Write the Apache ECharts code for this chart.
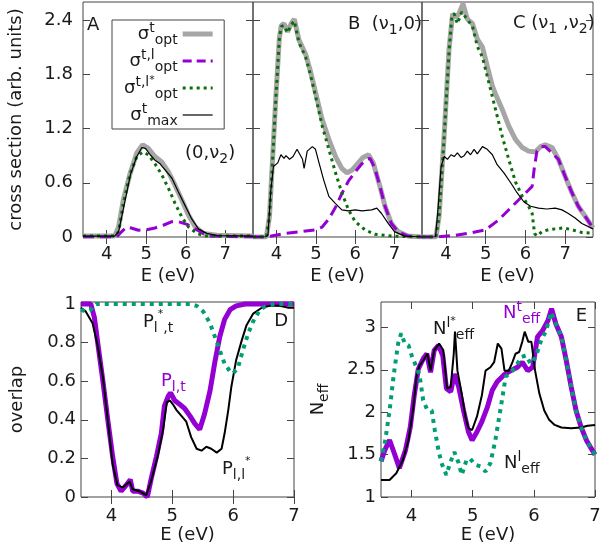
<!DOCTYPE html>
<html>
<head>
<meta charset="utf-8">
<script src="https://cdn.jsdelivr.net/npm/echarts@6.0.0/dist/echarts.min.js"></script>
<style>html,body{margin:0;padding:0;background:#fff}#chart{width:604px;height:549px}</style>
</head>
<body>
<div id="chart"></div>
<script>
// ---- data: [E (eV), value] ----
// panel A (0,v2)
const aOpt = [[3.4,0.01],[4.2,0.01],[4.3,0.11],[4.42,0.41],[4.59,0.7],[4.76,0.93],[4.91,1.02],[5.05,0.98],[5.22,0.89],[5.39,0.83],[5.56,0.72],[5.73,0.57],[5.9,0.41],[6.07,0.24],[6.24,0.11],[6.45,0.04],[6.78,0.02],[7.7,0.01]]
const aOptL = [[3.4,0],[4.25,0],[4.38,0.06],[4.5,0.11],[4.62,0.1],[4.8,0.075],[5.01,0.08],[5.22,0.1],[5.43,0.13],[5.65,0.17],[5.81,0.17],[6.03,0.14],[6.24,0.09],[6.45,0.04],[6.62,0.01],[7.7,0]]
const aOptLs = [[3.4,0.01],[4.22,0.01],[4.3,0.06],[4.42,0.37],[4.59,0.7],[4.76,0.89],[4.91,0.94],[5.05,0.91],[5.22,0.81],[5.39,0.69],[5.56,0.54],[5.73,0.37],[5.9,0.22],[6.07,0.11],[6.28,0.04],[6.5,0.01],[7.7,0.01]]
const aMax = [[3.4,0.01],[4.2,0.01],[4.3,0.06],[4.43,0.33],[4.6,0.69],[4.76,0.89],[4.89,0.99],[4.98,0.98],[5.1,0.91],[5.22,0.85],[5.35,0.81],[5.52,0.72],[5.65,0.65],[5.81,0.5],[5.98,0.35],[6.15,0.2],[6.32,0.09],[6.53,0.04],[6.8,0.015],[7.7,0.01]]
// panel B (v1,0)
const bOpt = [[3.4,0],[3.74,0],[3.82,0.23],[3.9,0.88],[3.98,1.54],[4.07,2.2],[4.12,2.34],[4.19,2.36],[4.28,2.27],[4.37,2.36],[4.45,2.41],[4.57,2.18],[4.74,2.02],[4.87,1.82],[4.99,1.6],[5.16,1.3],[5.33,1.08],[5.5,0.89],[5.66,0.76],[5.79,0.71],[5.92,0.74],[6.08,0.82],[6.2,0.88],[6.34,0.91],[6.46,0.82],[6.63,0.56],[6.76,0.34],[6.92,0.15],[7.09,0.06],[7.34,0.01],[7.7,0]]
const bOptL = [[3.4,0],[3.73,0],[4.24,0.04],[4.99,0.08],[5.16,0.11],[5.33,0.2],[5.5,0.33],[5.66,0.48],[5.83,0.62],[6.0,0.72],[6.17,0.81],[6.3,0.86],[6.38,0.87],[6.5,0.76],[6.63,0.56],[6.76,0.34],[6.92,0.15],[7.09,0.06],[7.34,0.01],[7.7,0]]
const bOptLs = [[3.4,0],[3.74,0],[3.82,0.23],[3.9,0.86],[3.98,1.52],[4.07,2.19],[4.12,2.33],[4.19,2.34],[4.28,2.26],[4.37,2.35],[4.45,2.39],[4.57,2.15],[4.74,1.99],[4.87,1.78],[4.99,1.56],[5.16,1.23],[5.33,0.97],[5.5,0.71],[5.66,0.49],[5.83,0.3],[6.0,0.17],[6.25,0.08],[6.5,0.03],[6.92,0.01],[7.7,0]]
const bMax = [[3.4,0],[3.72,0],[3.78,0.02],[3.85,0.5],[3.92,0.78],[4.03,0.82],[4.11,0.91],[4.19,0.87],[4.24,0.9],[4.33,0.86],[4.42,0.89],[4.52,0.97],[4.57,0.99],[4.66,0.86],[4.7,0.76],[4.78,0.95],[4.91,1.0],[4.99,0.97],[5.08,0.82],[5.2,0.63],[5.33,0.45],[5.5,0.37],[5.66,0.3],[5.83,0.29],[6.0,0.3],[6.17,0.29],[6.42,0.3],[6.55,0.32],[6.67,0.26],[6.84,0.15],[7.0,0.06],[7.26,0.01],[7.7,0]]
// panel C (v1,v2)
const cOpt = [[3.4,0],[3.75,0],[3.83,0.23],[3.96,1.15],[4.08,2.08],[4.17,2.47],[4.25,2.43],[4.33,2.47],[4.43,2.58],[4.54,2.41],[4.67,2.36],[4.79,2.19],[4.92,2.1],[5.04,1.89],[5.17,1.67],[5.25,1.58],[5.42,1.41],[5.58,1.23],[5.75,1.08],[5.92,0.99],[6.08,0.95],[6.25,0.94],[6.38,1.0],[6.5,1.02],[6.67,0.99],[6.83,0.86],[7.0,0.67],[7.17,0.49],[7.33,0.34],[7.5,0.23],[7.7,0.1]]
const cOptL = [[3.4,0],[3.75,0],[4.25,0.02],[4.67,0.05],[5.0,0.08],[5.33,0.19],[5.67,0.34],[5.92,0.45],[6.08,0.52],[6.17,0.56],[6.22,0.75],[6.29,0.95],[6.4,1.0],[6.5,1.0],[6.67,0.93],[6.83,0.86],[7.0,0.67],[7.17,0.49],[7.33,0.34],[7.5,0.23],[7.7,0.1]]
const cOptLs = [[3.4,0],[3.75,0],[3.83,0.23],[3.96,1.13],[4.08,2.05],[4.15,2.44],[4.21,2.47],[4.29,2.36],[4.4,2.49],[4.5,2.43],[4.67,2.33],[4.79,2.11],[4.92,1.99],[5.08,1.71],[5.25,1.41],[5.42,1.11],[5.58,0.86],[5.75,0.61],[5.92,0.45],[6.08,0.34],[6.17,0.26],[6.23,0.04],[6.29,0.01],[6.42,0.06],[6.58,0.08],[6.75,0.09],[6.96,0.1],[7.17,0.08],[7.42,0.05],[7.7,0.04]]
const cMax = [[3.4,0],[3.74,0],[3.8,0.3],[3.88,0.78],[3.96,0.89],[4.04,0.86],[4.13,0.91],[4.21,0.89],[4.29,0.93],[4.38,0.88],[4.46,0.9],[4.54,0.95],[4.62,0.91],[4.71,0.97],[4.79,0.92],[4.92,1.0],[5.04,0.97],[5.17,0.91],[5.29,0.8],[5.46,0.71],[5.63,0.6],[5.79,0.49],[5.96,0.39],[6.13,0.34],[6.33,0.32],[6.54,0.31],[6.75,0.32],[6.92,0.3],[7.08,0.26],[7.25,0.21],[7.42,0.15],[7.7,0.09]]
// panel D overlaps
const dLt = [[3.5,1.0],[3.66,1.0],[3.72,0.93],[3.77,0.81],[3.86,0.6],[3.94,0.4],[4.02,0.21],[4.09,0.07],[4.16,0.03],[4.24,0.06],[4.31,0.09],[4.35,0.03],[4.43,0.03],[4.52,0.02],[4.59,0.0],[4.65,0.09],[4.74,0.21],[4.82,0.33],[4.87,0.47],[4.93,0.52],[4.97,0.54],[5.04,0.5],[5.12,0.48],[5.2,0.46],[5.29,0.42],[5.37,0.38],[5.45,0.35],[5.53,0.43],[5.62,0.55],[5.7,0.7],[5.78,0.83],[5.86,0.92],[5.95,0.97],[6.05,0.99],[6.2,1.0],[7.0,1.0]]
const dLls = [[3.5,0.98],[3.58,0.96],[3.69,0.9],[3.77,0.79],[3.86,0.62],[3.94,0.4],[4.02,0.17],[4.1,0.06],[4.19,0.05],[4.3,0.08],[4.35,0.04],[4.46,0.03],[4.57,0.01],[4.65,0.08],[4.76,0.21],[4.85,0.35],[4.91,0.49],[4.96,0.5],[5.01,0.48],[5.07,0.45],[5.15,0.42],[5.23,0.39],[5.31,0.31],[5.4,0.25],[5.48,0.24],[5.56,0.26],[5.64,0.25],[5.73,0.23],[5.81,0.25],[5.86,0.33],[5.92,0.45],[5.97,0.57],[6.05,0.71],[6.14,0.81],[6.22,0.89],[6.33,0.95],[6.47,0.98],[6.6,0.99],[6.77,0.99],[6.91,0.98],[7.0,0.98]]
const dLst = [[3.5,0.97],[3.58,0.96],[3.66,0.97],[3.75,1.0],[5.29,1.0],[5.4,0.99],[5.51,0.96],[5.62,0.9],[5.7,0.83],[5.78,0.76],[5.86,0.69],[5.95,0.65],[6.0,0.64],[6.08,0.67],[6.16,0.76],[6.25,0.85],[6.33,0.91],[6.44,0.97],[6.55,0.99],[6.7,1.0],[7.0,1.0]]
// panel E effective numbers
const eT = [[3.5,1.42],[3.56,1.55],[3.64,1.67],[3.72,1.51],[3.8,1.34],[3.9,1.55],[3.98,1.83],[4.04,2.18],[4.11,2.51],[4.19,2.63],[4.25,2.69],[4.31,2.47],[4.37,2.73],[4.44,2.79],[4.51,2.67],[4.57,2.28],[4.64,2.24],[4.7,2.45],[4.77,2.3],[4.85,2.02],[4.93,1.77],[4.99,1.67],[5.07,1.77],[5.15,1.89],[5.24,2.06],[5.32,2.26],[5.4,2.36],[5.51,2.44],[5.62,2.49],[5.73,2.53],[5.81,2.59],[5.9,2.49],[5.98,2.53],[6.06,2.89],[6.14,2.96],[6.23,3.08],[6.29,3.22],[6.36,3.04],[6.45,2.89],[6.53,2.61],[6.61,2.3],[6.69,2.02],[6.77,1.83],[6.86,1.67],[6.94,1.57],[7.0,1.5]]
const eL = [[3.5,1.42],[3.57,1.67],[3.64,2.02],[3.71,2.45],[3.78,2.81],[3.83,2.93],[3.89,2.81],[3.95,2.79],[4.01,2.65],[4.07,2.55],[4.13,2.44],[4.19,2.14],[4.25,2.04],[4.33,2.02],[4.38,1.79],[4.44,1.55],[4.49,1.4],[4.57,1.26],[4.63,1.4],[4.7,1.53],[4.77,1.4],[4.82,1.26],[4.9,1.44],[4.96,1.45],[5.04,1.38],[5.13,1.36],[5.21,1.3],[5.29,1.4],[5.37,1.67],[5.46,2.06],[5.54,2.42],[5.62,2.47],[5.7,2.53],[5.79,2.65],[5.87,2.67],[5.95,2.57],[6.03,2.65],[6.12,2.85],[6.2,2.96],[6.28,3.18],[6.36,3.04],[6.45,2.89],[6.53,2.61],[6.61,2.3],[6.69,2.02],[6.77,1.83],[6.86,1.67],[6.94,1.57],[7.0,1.5]]
const eLs = [[3.5,1.2],[3.64,1.2],[3.75,1.28],[3.86,1.44],[3.95,1.67],[4.03,2.06],[4.08,2.42],[4.13,2.55],[4.19,2.61],[4.26,2.69],[4.31,2.49],[4.37,2.73],[4.45,2.81],[4.52,2.73],[4.58,2.28],[4.64,2.3],[4.69,2.69],[4.71,2.95],[4.75,2.49],[4.82,2.22],[4.88,1.95],[4.93,1.81],[4.99,1.79],[5.07,1.95],[5.15,2.2],[5.21,2.49],[5.29,2.53],[5.35,2.59],[5.41,2.81],[5.47,2.75],[5.52,2.49],[5.59,2.49],[5.65,2.59],[5.7,2.69],[5.76,2.71],[5.81,2.83],[5.85,2.95],[5.91,2.83],[5.96,2.83],[6.02,2.49],[6.09,2.22],[6.17,2.02],[6.25,1.91],[6.34,1.85],[6.45,1.82],[6.61,1.81],[6.77,1.82],[6.88,1.84],[7.0,1.85]]

// tick labels
const eTicks = [4, 5, 6, 7]
const sigmaTicks = [0, 0.6, 1.2, 1.8, 2.4]
const overlapTicks = [0, 0.2, 0.4, 0.6, 0.8, 1]
const neffTicks = [1, 1.5, 2, 2.5, 3]

const FONT = 'DejaVu Sans'
const INK = '#1a1a1a'
const EDGE = '#444'
const GRAY = '#a6a6a6'
const VIOLET = '#9400d3'
const GREEN = '#0b6e0b'
const TEAL = '#009e73'

const rich = {
  m: { fontSize: 18, fontFamily: FONT, lineHeight: 26 },
  p: { fontSize: 14, fontFamily: FONT, lineHeight: 14, verticalAlign: 'top' },
  b: { fontSize: 14, fontFamily: FONT, lineHeight: 14, verticalAlign: 'bottom' },
  s: { fontSize: 11, fontFamily: FONT, lineHeight: 9, verticalAlign: 'top' }
}
const rightRich = {}
Object.keys(rich).forEach(k => { rightRich[k] = Object.assign({ align: 'right' }, rich[k]) })

const legendText = {
  opt: '{m|σ}{p|t}{b|opt}',
  optl: '{m|σ}{p|t,l}{b|opt}',
  optls: '{m|σ}{p|t,l}{s|*}{b|opt}',
  max: '{m|σ}{p|t}{b|max}'
}

const gridBoxes = [
  { left: 83, top: 2, width: 170, height: 235 },
  { left: 253, top: 2, width: 169, height: 235 },
  { left: 422, top: 2, width: 171, height: 235 },
  { left: 81, top: 302, width: 213, height: 195 },
  { left: 381, top: 302, width: 214, height: 195 }
]

const xAxes = []
const yAxes = []
gridBoxes.forEach((g, i) => {
  const upper = i < 3
  const xr = upper ? [3.4, 7.7] : [3.5, 7]
  const tickStyle = { inside: true, length: 7, lineStyle: { color: EDGE } }
  const labelStyle = { fontSize: 18, fontFamily: FONT, color: INK }
  ;['bottom', 'top'].forEach(pos => {
    xAxes.push({
      gridIndex: i,
      type: 'value',
      position: pos,
      min: xr[0],
      max: xr[1],
      axisLine: { show: false },
      splitLine: { show: false },
      axisTick: Object.assign({ customValues: eTicks }, tickStyle),
      axisLabel: Object.assign({ show: pos === 'bottom', customValues: eTicks, margin: upper ? 8 : 10 }, labelStyle),
      name: pos === 'bottom' ? 'E (eV)' : '',
      nameLocation: 'middle',
      nameGap: upper ? 30 : 28,
      nameTextStyle: labelStyle
    })
  })
  let yr, yt, name, gap
  if (upper) { yr = [0, 2.6]; yt = sigmaTicks; name = i === 0 ? 'cross section (arb. units)' : ''; gap = 58 }
  else if (i === 3) { yr = [0, 1.01]; yt = overlapTicks; name = 'overlap'; gap = 55 }
  else { yr = [1, 3.3]; yt = neffTicks; name = '{m|N}{b|eff}'; gap = 50 }
  ;['left', 'right'].forEach(pos => {
    yAxes.push({
      gridIndex: i,
      type: 'value',
      position: pos,
      min: yr[0],
      max: yr[1],
      axisLine: { show: false },
      splitLine: { show: false },
      axisTick: Object.assign({ customValues: yt }, tickStyle),
      axisLabel: Object.assign({ show: pos === 'left' && (i === 0 || !upper), customValues: yt, margin: upper ? 10 : 5 }, labelStyle),
      name: pos === 'left' ? name : '',
      nameLocation: 'middle',
      nameRotate: 90,
      nameGap: gap,
      nameTextStyle: Object.assign({ rich: rich }, labelStyle)
    })
  })
})

function line (name, data, gi, color, width, type, z) {
  return {
    type: 'line',
    name: name,
    data: data,
    xAxisIndex: 2 * gi,
    yAxisIndex: 2 * gi,
    symbol: 'none',
    silent: true,
    z: z,
    itemStyle: { color: color },
    lineStyle: { color: color, width: width, type: type || 'solid', cap: 'butt' }
  }
}

const series = []
;[[aOpt, aOptL, aOptLs, aMax], [bOpt, bOptL, bOptLs, bMax], [cOpt, cOptL, cOptLs, cMax]].forEach((set, gi) => {
  series.push(line('opt', set[0], gi, GRAY, 5, 'solid', 2))
  series.push(line('optl', set[1], gi, VIOLET, 3, [11, 6], 3))
  series.push(line('optls', set[2], gi, GREEN, 3, [3, 4], 4))
  series.push(line('max', set[3], gi, '#000', 1.2, 'solid', 5))
})
series.push(line('Plt', dLt, 3, VIOLET, 5, 'solid', 2))
series.push(line('Plls', dLls, 3, '#000', 2, 'solid', 3))
series.push(line('Plst', dLst, 3, TEAL, 4, [4, 5], 4))
series.push(line('Nt', eT, 4, VIOLET, 5, 'solid', 2))
series.push(line('Nls', eLs, 4, '#000', 2, 'solid', 3))
series.push(line('Nl', eL, 4, TEAL, 4, [4, 5], 4))

function label (x, y, text, color, align) {
  return {
    type: 'text',
    x: x,
    y: y,
    silent: true,
    style: {
      text: text,
      rich: rich,
      fill: color || INK,
      fontFamily: FONT,
      fontSize: 18,
      align: align || 'left',
      textAlign: align || 'left',
      verticalAlign: 'middle',
      textVerticalAlign: 'middle'
    }
  }
}

const option = {
  animation: false,
  backgroundColor: '#fff',
  grid: gridBoxes.map(g => Object.assign({ show: true, borderColor: EDGE, borderWidth: 1 }, g)),
  xAxis: xAxes,
  yAxis: yAxes,
  legend: {
    data: [
      { name: 'opt', lineStyle: { width: 5, color: GRAY, type: 'solid' } },
      { name: 'optl', lineStyle: { width: 3, color: VIOLET, type: [9, 5] } },
      { name: 'optls', lineStyle: { width: 3, color: GREEN, type: [3, 4] } },
      { name: 'max', lineStyle: { width: 1.2, color: '#000', type: 'solid' } }
    ],
    orient: 'vertical',
    left: 112,
    top: 20,
    align: 'right',
    selectedMode: false,
    itemWidth: 30,
    itemHeight: 12,
    itemGap: 1,
    itemStyle: { opacity: 0 },
    padding: [1, 9, 1, 12],
    borderColor: EDGE,
    borderWidth: 1,
    backgroundColor: '#fff',
    formatter: n => legendText[n],
    textStyle: { width: 56, color: INK, fontFamily: FONT, fontSize: 18, rich: rightRich }
  },
  graphic: {
    elements: [
      label(87, 25, '{m|A}'),
      label(348, 24, '{m|B  (ν}{b|1}{m|,0)}'),
      label(513, 23, '{m|C (ν}{b|1}{m| ,ν}{b|2}{m|)}'),
      label(185, 153, '{m|(0,ν}{b|2}{m|)}'),
      label(288, 321, '{m|D}', INK, 'right'),
      label(587, 316, '{m|E}', INK, 'right'),
      label(143, 322, '{m|P}{b|l}{s|*}{b|,t}'),
      label(161, 381, '{m|P}{b|l,t}', VIOLET),
      label(222, 469, '{m|P}{b|l,l}{s|*}'),
      label(433, 329, '{m|N}{p|l}{s|*}{b|eff}'),
      label(503, 313, '{m|N}{p|t}{b|eff}', VIOLET),
      label(504, 463, '{m|N}{p|l}{b|eff}')
    ]
  },
  series: series
}

const chart = echarts.init(document.getElementById('chart'))
chart.setOption(option)
</script>
</body>
</html>
